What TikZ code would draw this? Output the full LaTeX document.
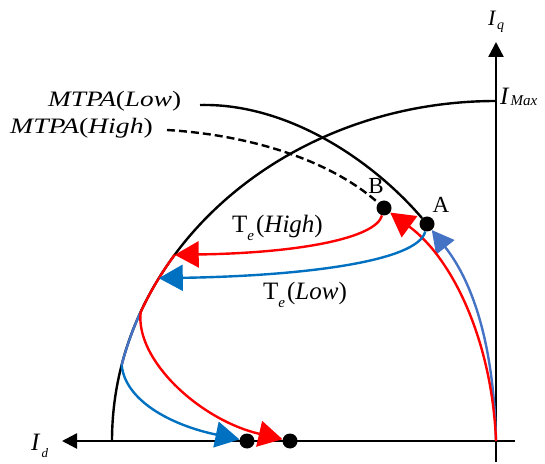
\documentclass[tikz,border=0pt]{standalone}
\usepackage{fontspec}
\setmainfont{Liberation Serif}
\usepackage{graphicx}
\usetikzlibrary{arrows.meta}
\definecolor{cred}{HTML}{FF0000}
\definecolor{cblue}{HTML}{0070C0}
\definecolor{csteel}{HTML}{4472C4}
\newcommand{\fsz}[2]{\fontsize{#1}{#2}\selectfont}
\begin{document}
\begin{tikzpicture}[x=1pt,y=1pt,
  blk/.style={draw=black, line width=2.4pt},
  axisline/.style={draw=black, line width=2.4pt, -{Triangle[length=15pt,width=15pt]}},
  redarr/.style={draw=cred, line width=2.4pt, -{Triangle[length=24pt,width=26pt]}},
  bluearr/.style={draw=cblue, line width=2.4pt, -{Triangle[length=24pt,width=26pt]}},
  steelarr/.style={draw=csteel, line width=2.4pt, -{Triangle[length=22pt,width=23pt]}},
  dotnode/.style={circle, fill=black, inner sep=0pt, minimum size=15pt},
  lbl/.style={inner sep=0pt}]
\useasboundingbox (0,0) rectangle (545,463);
% key points
\coordinate (O) at (496,22);
\coordinate (iqB) at (496,1);
\coordinate (iqT) at (496,421);
\coordinate (idR) at (515,22);
\coordinate (idL) at (62,22);
\coordinate (mlowS) at (200,358);
\coordinate (mhighS) at (167,333);
\coordinate (E1) at (174.7,208.2);
\coordinate (E2) at (140.7,151);
\coordinate (E3) at (121.7,97.9);
\coordinate (E4) at (158.8,184.8);
% dots
\node[dotnode] (A) at (427,239) {};
\node[dotnode] (B) at (384,255) {};
\node[dotnode] (D1) at (247,22) {};
\node[dotnode] (D2) at (290,22) {};
% axes
\draw[axisline] (iqB) -- (iqT);
\draw[axisline] (idR) -- (idL);
% current limit ellipse
\draw[blk] (O) ++(-384,0) arc[start angle=180, end angle=90, x radius=384pt, y radius=340pt];
% MTPA curves
\draw[blk] (mlowS) .. controls (290,360) and (375,300) .. (A);
\draw[blk, dash pattern=on 8pt off 4pt] (mhighS) .. controls (250,328) and (330,303) .. (B);
% overlays on the ellipse
\draw[draw=cred, line width=2.4pt] (E1) arc[start angle=146.8, end angle=157.7, x radius=384pt, y radius=340pt];
\draw[draw=csteel, line width=2.4pt] (E2) arc[start angle=157.7, end angle=167.1, x radius=384pt, y radius=340pt];
% trajectories
\draw[steelarr] (O) .. controls (494,113) and (475,178) .. (A);
\draw[redarr] (O) .. controls (492,123) and (452,205) .. (B);
\draw[bluearr] (A) .. controls (418,201) and (300,187) .. (E4);
\draw[redarr] (B) .. controls (376,225) and (300,210) .. (E1);
\draw[redarr] (E2) .. controls (135,103) and (200,43) .. (D2);
\draw[bluearr] (E3) .. controls (125,63) and (170,38) .. (D1);
% labels
\node[lbl, anchor=base west] (lIq) at (488,437) {\fsz{22}{26}\itshape I\kern1.5pt\raisebox{-4pt}{\fsz{14}{16}q}};
\node[lbl, anchor=base west] (lImax) at (500,358) {\fsz{25}{30}\itshape I\kern2pt\raisebox{-1pt}{\fsz{15}{18}Max}};
\node[lbl, anchor=base west] (lId) at (31,13) {\fsz{25}{30}\itshape I\kern2pt\raisebox{-7pt}{\fsz{13}{16}d}};
\node[lbl, anchor=base west] (lLow) at (48,356) {\scalebox{1.24}[1]{\fsz{22}{26}\itshape MTPA\upshape(\itshape Low\upshape)}};
\node[lbl, anchor=base west] (lHigh) at (10,329) {\scalebox{1.26}[1]{\fsz{22}{26}\itshape MTPA\upshape(\itshape High\upshape)}};
\node[lbl, anchor=base west] (lTh) at (232,230) {\fsz{25}{30}T\raisebox{-8pt}{\fsz{15}{18}\itshape e}\kern2pt(\textit{High})};
\node[lbl, anchor=base west] (lTl) at (263,163) {\fsz{25}{30}T\raisebox{-8pt}{\fsz{15}{18}\itshape e}\kern2pt(\textit{Low})};
\node[lbl] (lA) at (441,258) {\fsz{23}{27}A};
\node[lbl] (lB) at (376,277) {\fsz{23}{27}B};
\end{tikzpicture}
\end{document}
